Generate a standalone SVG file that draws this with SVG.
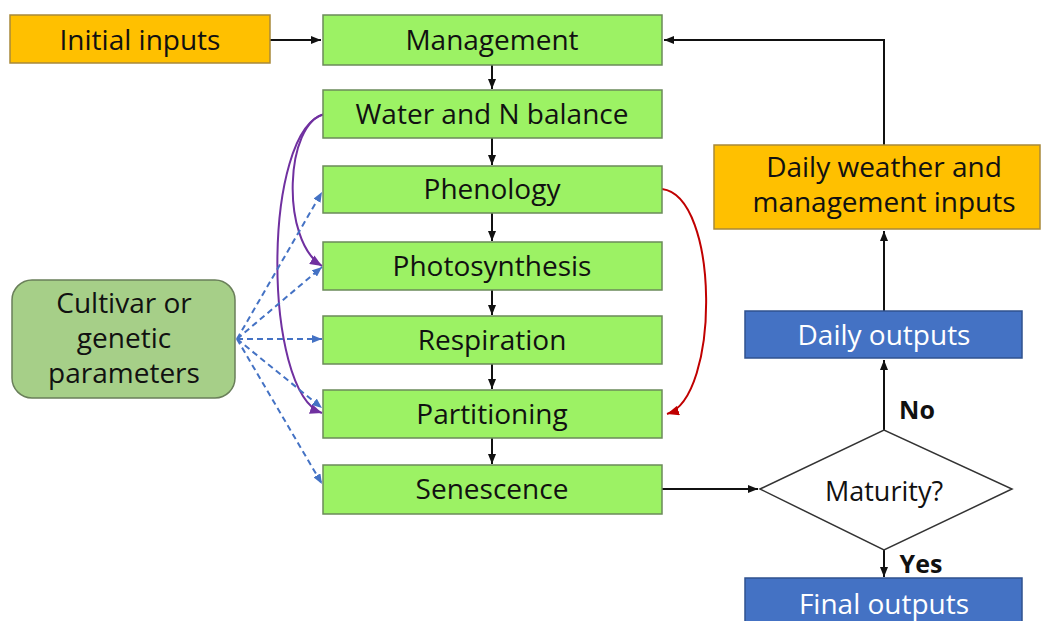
<svg xmlns="http://www.w3.org/2000/svg" width="1041" height="621" viewBox="0 0 1041 621">
<defs>
<style>
.t{font-family:"Open Sans","Liberation Sans",sans-serif;font-size:28px;fill:#111;text-anchor:middle}
.w{fill:#fff}
.g{fill:#9cf264;stroke:#6b8a5a;stroke-width:1.5}
.o{fill:#ffc000;stroke:#a8893a;stroke-width:1.5}
.b{fill:#4472c4;stroke:#2f528f;stroke-width:1.5}
.k{fill:none;stroke:#111;stroke-width:2}
.p{fill:none;stroke:#7030a0;stroke-width:2}
.r{fill:none;stroke:#c00000;stroke-width:2}
.d{fill:none;stroke:#4472c4;stroke-width:2;stroke-dasharray:6 4}
</style>
<marker id="ak" markerWidth="10" markerHeight="8" refX="10" refY="4" orient="auto" markerUnits="userSpaceOnUse"><path d="M0,0 L10,4 L0,8 Z" fill="#111"/></marker>
<marker id="ap" markerWidth="12" markerHeight="10" refX="12" refY="5" orient="auto" markerUnits="userSpaceOnUse"><path d="M0,0 L12,5 L0,10 Z" fill="#7030a0"/></marker>
<marker id="ar" markerWidth="12" markerHeight="10" refX="12" refY="5" orient="auto" markerUnits="userSpaceOnUse"><path d="M0,0 L12,5 L0,10 Z" fill="#c00000"/></marker>
<marker id="ab" markerWidth="10" markerHeight="8" refX="10" refY="4" orient="auto" markerUnits="userSpaceOnUse"><path d="M0,0 L10,4 L0,8 Z" fill="#4472c4"/></marker>
</defs>
<rect width="1041" height="621" fill="#fff"/>
<g id="connectors">
<path class="k" d="M270 40 H321" marker-end="url(#ak)"/>
<path class="k" d="M492 65 V89" marker-end="url(#ak)"/>
<path class="k" d="M492 138 V165" marker-end="url(#ak)"/>
<path class="k" d="M492 213 V241" marker-end="url(#ak)"/>
<path class="k" d="M492 290 V315" marker-end="url(#ak)"/>
<path class="k" d="M492 364 V389" marker-end="url(#ak)"/>
<path class="k" d="M492 438 V464" marker-end="url(#ak)"/>
<path class="k" d="M662 489 H758" marker-end="url(#ak)"/>
<path class="k" d="M884 430 V360" marker-end="url(#ak)"/>
<path class="k" d="M884 311 V231" marker-end="url(#ak)"/>
<path class="k" d="M884 145 V40 H664" marker-end="url(#ak)"/>
<path class="k" d="M884 550 V577" marker-end="url(#ak)"/>
<path class="p" d="M325 114 C285 122 280 240 322 266" marker-end="url(#ap)"/>
<path class="p" d="M325 114 C262 128 262 392 322 413" marker-end="url(#ap)"/>
<path class="r" d="M662 189 C720 196 720 398 667 414" marker-end="url(#ar)"/>
<path class="d" d="M237 339 L322 192" marker-end="url(#ab)"/>
<path class="d" d="M237 339 L322 267" marker-end="url(#ab)"/>
<path class="d" d="M237 339 L322 339" marker-end="url(#ab)"/>
<path class="d" d="M237 339 L322 408" marker-end="url(#ab)"/>
<path class="d" d="M237 339 L322 484" marker-end="url(#ab)"/>
</g>
<g id="initial-inputs"><rect class="o" x="10" y="15" width="260" height="48"/><text class="t" x="140" y="50">Initial inputs</text></g>
<g id="management"><rect class="g" x="323" y="15" width="339" height="50"/><text class="t" x="492" y="50">Management</text></g>
<g id="water-n"><rect class="g" x="323" y="90" width="339" height="48"/><text class="t" x="492" y="124">Water and N balance</text></g>
<g id="phenology"><rect class="g" x="323" y="166" width="339" height="47"/><text class="t" x="492" y="199">Phenology</text></g>
<g id="photosynthesis"><rect class="g" x="323" y="242" width="339" height="48"/><text class="t" x="492" y="276">Photosynthesis</text></g>
<g id="respiration"><rect class="g" x="323" y="316" width="339" height="48"/><text class="t" x="492" y="350">Respiration</text></g>
<g id="partitioning"><rect class="g" x="323" y="390" width="339" height="48"/><text class="t" x="492" y="424">Partitioning</text></g>
<g id="senescence"><rect class="g" x="323" y="465" width="339" height="49"/><text class="t" x="492" y="499">Senescence</text></g>
<g id="cultivar"><rect x="12" y="280" width="223" height="118" rx="20" fill="#a6cf88" stroke="#6a7f5a" stroke-width="1.5"/>
<text class="t" x="124" y="313">Cultivar or</text><text class="t" x="124" y="348">genetic</text><text class="t" x="124" y="383">parameters</text></g>
<g id="daily-weather"><rect class="o" x="714" y="145" width="326" height="84"/><text class="t" x="884" y="177">Daily weather and</text><text class="t" x="884" y="212">management inputs</text></g>
<g id="daily-outputs"><rect class="b" x="745" y="311" width="277" height="47"/><text class="t w" x="884" y="345">Daily outputs</text></g>
<g id="maturity"><polygon points="760,489 884,430 1012,489 884,550" fill="#fff" stroke="#333" stroke-width="1.5"/><text class="t" x="884" y="501" style="font-size:27px">Maturity?</text></g>
<g id="labels"><text class="t" x="917" y="419" style="font-size:25px;font-weight:bold">No</text><text class="t" x="921" y="573" style="font-size:25px;font-weight:bold">Yes</text></g>
<g id="final-outputs"><rect class="b" x="745" y="578" width="277" height="50"/><text class="t w" x="884" y="614">Final outputs</text></g>
</svg>
